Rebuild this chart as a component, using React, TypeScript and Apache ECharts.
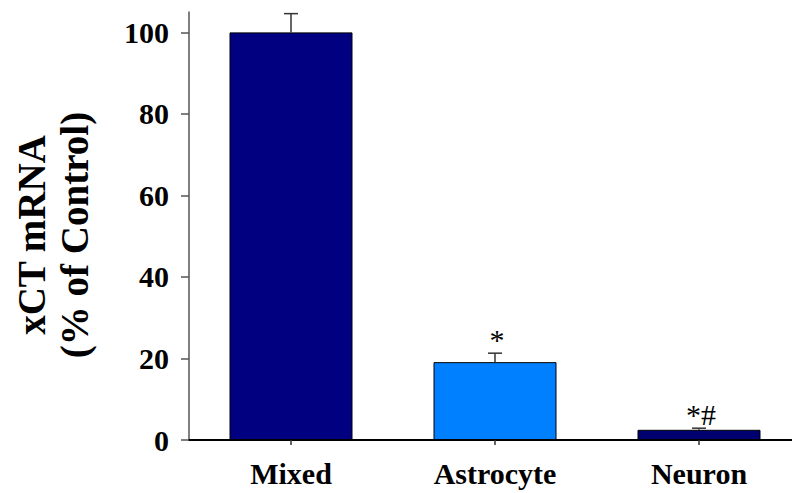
import React, { useEffect, useRef } from "react";
import * as echarts from "echarts";

const categories = ["Mixed", "Astrocyte", "Neuron"];
const values = [100, 19.1, 2.5];
const errors = [4.6, 2.2, 0.4];
const annotations = ["", "*", "*#"];
const barColors = ["#000080", "#0080FF", "#000070"];
const yTicks = [0, 20, 40, 60, 80, 100];

export default function App() {
  const ref = useRef<HTMLDivElement>(null);
  useEffect(() => {
    document.body.style.margin = "0";
    document.body.style.overflow = "hidden";
    document.documentElement.style.overflow = "hidden";
    const chart = echarts.init(ref.current!, null, { renderer: "svg" });
    const serif = "'Liberation Serif', 'Times New Roman', serif";
    chart.setOption({
      animation: false,
      backgroundColor: "#ffffff",
      grid: { left: 189, top: 12, bottom: 53, right: 0 },
      xAxis: {
        type: "category",
        data: categories,
        axisLine: { lineStyle: { color: "#000", width: 2 } },
        axisTick: { show: true, alignWithLabel: true, length: 5, inside: false, lineStyle: { color: "#333", width: 1.5 } },
        axisLabel: { fontFamily: serif, fontWeight: "bold", fontSize: 30, color: "#000", margin: 18 },
        splitLine: { show: false },
      },
      yAxis: {
        type: "value",
        min: 0,
        max: 105,
        interval: 20,
        axisLine: { show: true, lineStyle: { color: "#555", width: 1.5 } },
        axisTick: { show: true, length: 8, customValues: yTicks, lineStyle: { color: "#555", width: 1.5 } },
        axisLabel: {
          fontFamily: serif,
          fontWeight: "bold",
          fontSize: 30,
          color: "#000",
          margin: 20,
          customValues: yTicks,
        },
        splitLine: { show: false },
      },
      graphic: [
        {
          type: "text",
          x: 31,
          y: 235,
          rotation: Math.PI / 2,
          style: {
            text: "xCT mRNA",
            fontFamily: serif,
            fontWeight: "bold",
            fontSize: 39,
            fill: "#000",
            textAlign: "center",
            textVerticalAlign: "middle",
          },
        },
        {
          type: "text",
          x: 74,
          y: 235,
          rotation: Math.PI / 2,
          style: {
            text: "(% of Control)",
            fontFamily: serif,
            fontWeight: "bold",
            fontSize: 39,
            fill: "#000",
            textAlign: "center",
            textVerticalAlign: "middle",
          },
        },
      ],
      series: [
        {
          type: "bar",
          barWidth: 123,
          data: values.map((v, i) => ({
            value: v,
            itemStyle: { color: barColors[i], borderColor: "#000", borderWidth: 1 },
          })),
        },
        {
          type: "custom",
          data: values.map((v, i) => [i, v, v + errors[i]]),
          renderItem: (params: any, api: any) => {
            const i = api.value(0);
            const base = api.coord([i, api.value(1)]);
            const top = api.coord([i, api.value(2)]);
            const cap = 7;
            const children: any[] = [
              { type: "line", shape: { x1: base[0], y1: base[1], x2: top[0], y2: top[1] }, style: { stroke: "#333", lineWidth: 1.5 } },
              { type: "line", shape: { x1: top[0] - cap, y1: top[1], x2: top[0] + cap, y2: top[1] }, style: { stroke: "#333", lineWidth: 1.5 } },
            ];
            const ann = annotations[params.dataIndex];
            if (ann) {
              children.push({
                type: "text",
                x: top[0] + 2,
                y: top[1] + 1,
                style: {
                  text: ann,
                  fontFamily: serif,
                  fontSize: 30,
                  fill: "#000",
                  textAlign: "center",
                  textVerticalAlign: "bottom",
                },
              });
            }
            return { type: "group", children };
          },
          z: 5,
        },
      ],
    });
    return () => chart.dispose();
  }, []);
  return <div ref={ref} style={{ width: 801, height: 493 }} />;
}
